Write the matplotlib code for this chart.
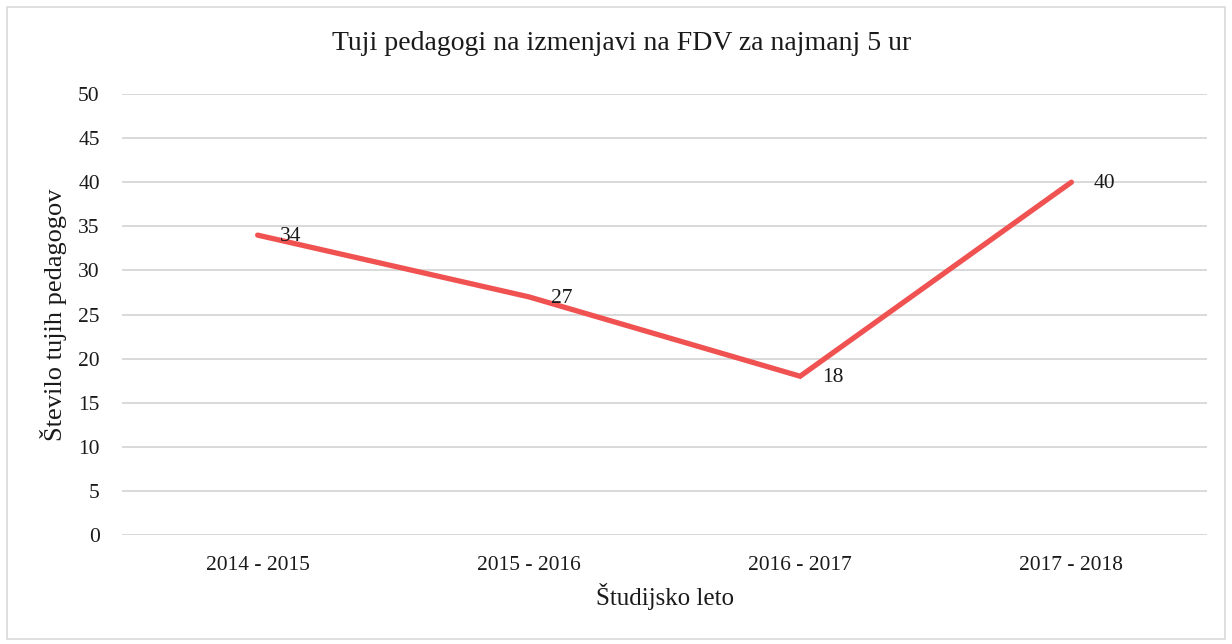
import matplotlib.pyplot as plt
from matplotlib.patches import Rectangle

plt.rcParams['font.family'] = ['Liberation Serif', 'DejaVu Serif']

# podatki
leta = ['2014 - 2015', '2015 - 2016', '2016 - 2017', '2017 - 2018']
pedagogi = [34, 27, 18, 40]
y_ticks = [0, 5, 10, 15, 20, 25, 30, 35, 40, 45, 50]

fig = plt.figure(figsize=(12.32, 6.44), dpi=100)
ax = fig.add_axes([122 / 1232, 1 - 535 / 644, 1085 / 1232, 441 / 644])

x = list(range(len(leta)))
ax.plot(x, pedagogi, color='#F05252', linewidth=3.8, solid_capstyle='round', solid_joinstyle='miter', zorder=3)
for xi, v in zip(x, pedagogi):
    ax.annotate(str(v), (xi, v), xytext=(16, -1), textcoords='offset points',
                ha='left', va='center', fontsize=15.5, color='#1a1a1a', zorder=4)

ax.set_xlim(-0.5, 3.5)
ax.set_ylim(0, 50)
ax.set_yticks(y_ticks)
ax.set_xticks(x)
ax.set_xticklabels(leta)
ax.tick_params(axis='both', length=0, labelsize=15.5, colors='#1a1a1a')
ax.tick_params(axis='y', pad=16)
ax.tick_params(axis='x', pad=15)
ax.grid(axis='y', color='#D9D9D9', linewidth=1.4)
ax.set_axisbelow(True)
for s in ax.spines.values():
    s.set_visible(False)

# naslov je centriran na celotno sliko
fig.text(622 / 1232, 1 - 44 / 644, 'Tuji pedagogi na izmenjavi na FDV za najmanj 5 ur',
         fontsize=20, color='#1a1a1a', ha='center', va='center')
ax.set_ylabel('Število tujih pedagogov', fontsize=19, color='#1a1a1a', labelpad=8)
ax.set_xlabel('Študijsko leto', fontsize=18, color='#1a1a1a', labelpad=6)

# okvir okoli grafa
fig.patches.append(Rectangle((7 / 1232, 5 / 644), 1218 / 1232, 632 / 644, transform=fig.transFigure,
                             fill=False, edgecolor='#D9D9D9', linewidth=1.2))

fig.savefig('out.png', dpi=100)
